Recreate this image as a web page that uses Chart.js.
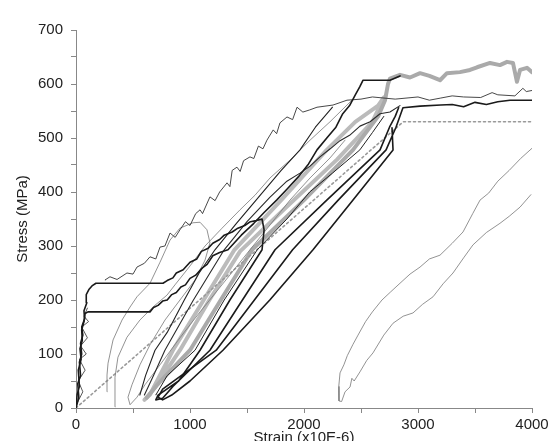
<!DOCTYPE html>
<html>
<head>
<meta charset="utf-8">
<script src="https://cdn.jsdelivr.net/npm/chart.js@4.4.1/dist/chart.umd.min.js"></script>
<style>
  html, body { margin: 0; padding: 0; background: #fff; overflow: hidden; }
  #wrap { width: 555px; height: 452px; }
  #grafico { filter: blur(0.3px); }
</style>
</head>
<body>
<div id="wrap"><canvas id="grafico"></canvas></div>
<script>
// strain (x10E-6), stress (MPa) pairs
var loadA = [[0,0],[25,20],[15,45],[40,60],[30,85],[50,100],[40,120],[60,135],[50,150],[75,165],[70,180],[95,195],[90,210],[115,220],[140,226],[175,231],
  [763,231],[800,236],[850,241],[880,250],[940,256],[1000,270],[1060,276],[1100,290],[1160,296],[1200,305],[1260,312],[1300,320],[1370,326],
  [1420,333],[1480,338],[1530,345],[1580,347],[1632,350],[1650,330],[1632,293],[1350,200],[1088,107],[900,50],[720,24],[700,15],[760,18],[850,40],
  [1175,107],[1460,200],[1746,293],[2200,385],[2667,478],[2750,520],[2800,540],[2830,556]];
var loadB = [[0,0],[10,25],[30,40],[20,70],[45,90],[35,110],[55,125],[50,145],[70,160],[80,175],[105,178],[649,178],[680,186],[720,190],[760,198],
  [800,200],[840,210],[880,214],[920,224],[960,228],[1000,240],[1050,246],[1100,258],[1150,266],[1200,282],[1260,288],[1333,293],[1450,320],
  [1560,342],[1650,362],[1760,385],[1850,405],[1950,428],[2040,452],[2114,478],[2200,500],[2280,520],[2340,545],[2400,560],[2450,580],[2490,595],
  [2518,607],[2754,607],[2842,615]];
var initialNoise = [[0,5],[60,30],[20,50],[80,70],[30,90],[90,100],[40,115],[100,130],[50,150],[110,160],[70,170],[100,185]];
var zigCurve = [[254,237],[298,243],[360,238],[447,250],[500,248],[535,261],[600,268],[649,280],[700,276],[737,298],[780,300],[825,324],[870,316],
  [912,330],[960,345],[1000,338],[1050,360],[1088,367],[1110,360],[1175,391],[1220,384],[1260,400],[1325,417],[1350,410],[1370,440],[1412,446],
  [1440,438],[1470,458],[1526,465],[1560,462],[1600,485],[1640,480],[1675,496],[1730,515],[1760,508],[1789,528],[1851,539],[1900,534],[1939,557],
  [1990,548],[2050,552],[2114,557],[2254,561],[2377,570],[2500,572],[2600,576],[2800,572],[3000,576],[3100,570],[3200,574],[3300,578],[3400,576],
  [3550,575],[3650,584],[3700,580],[3850,578],[3920,592],[3950,586],[4000,588]];
var outerLoop = [[2772,519],[2781,478],[2430,385],[2079,293],[1700,200],[1289,107],[1000,50],[840,24],[760,15],[720,20],[760,35],[1230,107],
  [1900,293],[2300,385],[2720,478],[2807,520],[2868,556],[3018,559],[3200,561],[3300,562],[3400,558],[3500,566],[3600,562],[3700,567],[3807,570],[4009,570]];
var grayUpper = [[620,19],[700,40],[1000,107],[1270,200],[1544,293],[2000,385],[2430,478],[2650,540],[2711,570],[2737,600],[2754,610],[2842,617],
  [2930,612],[3018,620],[3100,615],[3193,607],[3254,620],[3368,622],[3456,626],[3518,631],[3632,639],[3719,635],[3781,641],[3833,639],[3868,604],
  [3895,626],[3956,630],[4000,622]];
var grayLoop = [[2700,575],[2600,530],[2289,460],[1860,375],[1439,290],[1170,200],[912,107],[700,40],[640,24],[600,15],[650,25],[850,107],
  [1120,200],[1390,293],[1800,385],[2200,478],[2450,530],[2650,560],[2700,575]];
var darkLine1 = [[560,24],[610,60],[693,107],[800,140],[950,200],[1080,250],[1219,293],[1400,340],[1600,390],[1800,440],[1965,478],[2100,520],[2250,557]];
var darkLine2 = [[700,24],[800,60],[1044,107],[1300,200],[1590,293],[1850,350],[2050,400],[2250,435],[2490,478],[2600,510],[2700,540]];
var darkLine3 = [[600,24],[680,60],[780,107],[1030,200],[1300,293],[1500,345],[1700,390],[1850,420],[1965,435],[2053,448],[2140,465],[2230,480],
  [2316,495],[2400,505],[2491,522],[2580,530],[2667,545],[2754,548],[2842,560]];
var thinLeft1 = [[342,2],[342,24],[342,57],[368,94],[447,131],[561,163],[675,187],[798,209],[868,228],[1000,263],[1132,300],[1281,333],[1439,367],
  [1570,394],[1702,426],[1877,459],[2053,496],[2228,530],[2377,561],[2421,570]];
var thinLeft2 = [[272,30],[272,61],[281,83],[325,126],[404,163],[474,187],[535,206],[649,231],[737,270],[825,311],[912,333],[1026,343],[1088,344],
  [1149,330],[1175,306],[1132,274],[1044,237],[912,200],[781,163],[649,117],[561,80],[491,43],[456,20],[474,6],[535,20],[605,43],[737,80],[912,130],
  [1088,178],[1307,235],[1526,293],[1702,339],[1877,385],[2053,426],[2228,463],[2360,496]];
var lastLoop = [[4000,481],[3900,462],[3800,440],[3700,420],[3620,398],[3544,385],[3480,360],[3395,326],[3300,305],[3193,283],[3100,276],[3018,261],
  [2930,248],[2842,231],[2760,215],[2684,200],[2600,178],[2540,160],[2474,135],[2430,118],[2380,97],[2350,80],[2316,65],[2305,40],[2307,13],[2330,12],
  [2360,30],[2404,39],[2420,55],[2440,50],[2491,67],[2550,88],[2605,102],[2700,135],[2781,157],[2870,170],[2956,176],[3040,192],[3132,206],
  [3220,230],[3307,250],[3400,278],[3482,302],[3600,325],[3719,342],[3800,355],[3895,372],[3990,395]];
var idealLine = [[0,0],[2870,530],[4000,530]];

function serie(pts, cor, larg, tracejado) {
  return {
    data: pts.map(function(p) { return {x: p[0], y: p[1]}; }),
    borderColor: cor,
    borderWidth: larg,
    borderDash: tracejado || [],
    showLine: true,
    pointRadius: 0,
    tension: 0,
    borderJoinStyle: 'round',
    borderCapStyle: 'round'
  };
}

// first one is drawn on top
var datasets = [
  serie(loadA, '#1a1a1a', 1.6),
  serie(loadB, '#1a1a1a', 1.6),
  serie(initialNoise, '#444', 0.9),
  serie(outerLoop, '#1a1a1a', 1.6),
  serie(zigCurve, '#333', 0.9),
  serie(darkLine1, '#222', 1.1),
  serie(darkLine2, '#222', 1.0),
  serie(darkLine3, '#2a2a2a', 1.1),
  serie(thinLeft1, '#777', 0.8),
  serie(thinLeft2, '#777', 0.8),
  serie(lastLoop, '#777', 0.8),
  serie(idealLine, '#999', 1.6, [2, 3]),
  serie(grayUpper, '#aaa', 4),
  serie(grayLoop, '#bbb', 4)
];

var fonte = { family: '"Liberation Sans", Arial, sans-serif', size: 15 };

new Chart(document.getElementById('grafico'), {
  type: 'scatter',
  data: { datasets: datasets },
  options: {
    responsive: true,
    maintainAspectRatio: false,
    animation: false,
    layout: { padding: { top: 30, right: 23, left: 0, bottom: 0 } },
    plugins: { legend: { display: false }, tooltip: { enabled: false } },
    scales: {
      x: {
        type: 'linear', min: 0, max: 4000,
        afterFit: function(s) { s.height = 44; },
        grid: { drawOnChartArea: false, tickLength: 5, color: '#888' },
        border: { color: '#888' },
        ticks: {
          stepSize: 500, autoSkip: false, maxRotation: 0, padding: 3, color: '#222', font: fonte,
          callback: function(v) { return v % 1000 === 0 ? v : ''; }
        },
        title: { display: true, text: 'Strain (x10E-6)', color: '#222', font: fonte, padding: { top: 0, bottom: 5 } }
      },
      y: {
        type: 'linear', min: 0, max: 700,
        afterFit: function(s) { s.width = 76; },
        grid: { drawOnChartArea: false, tickLength: 5, color: '#888' },
        border: { color: '#888' },
        ticks: {
          stepSize: 50, autoSkip: false, padding: 8, color: '#222', font: fonte,
          callback: function(v) { return v % 100 === 0 ? v : ''; }
        },
        title: { display: true, text: 'Stress (MPa)', color: '#222', font: fonte, padding: { top: 14, bottom: 0 } }
      }
    }
  }
});
</script>
</body>
</html>
